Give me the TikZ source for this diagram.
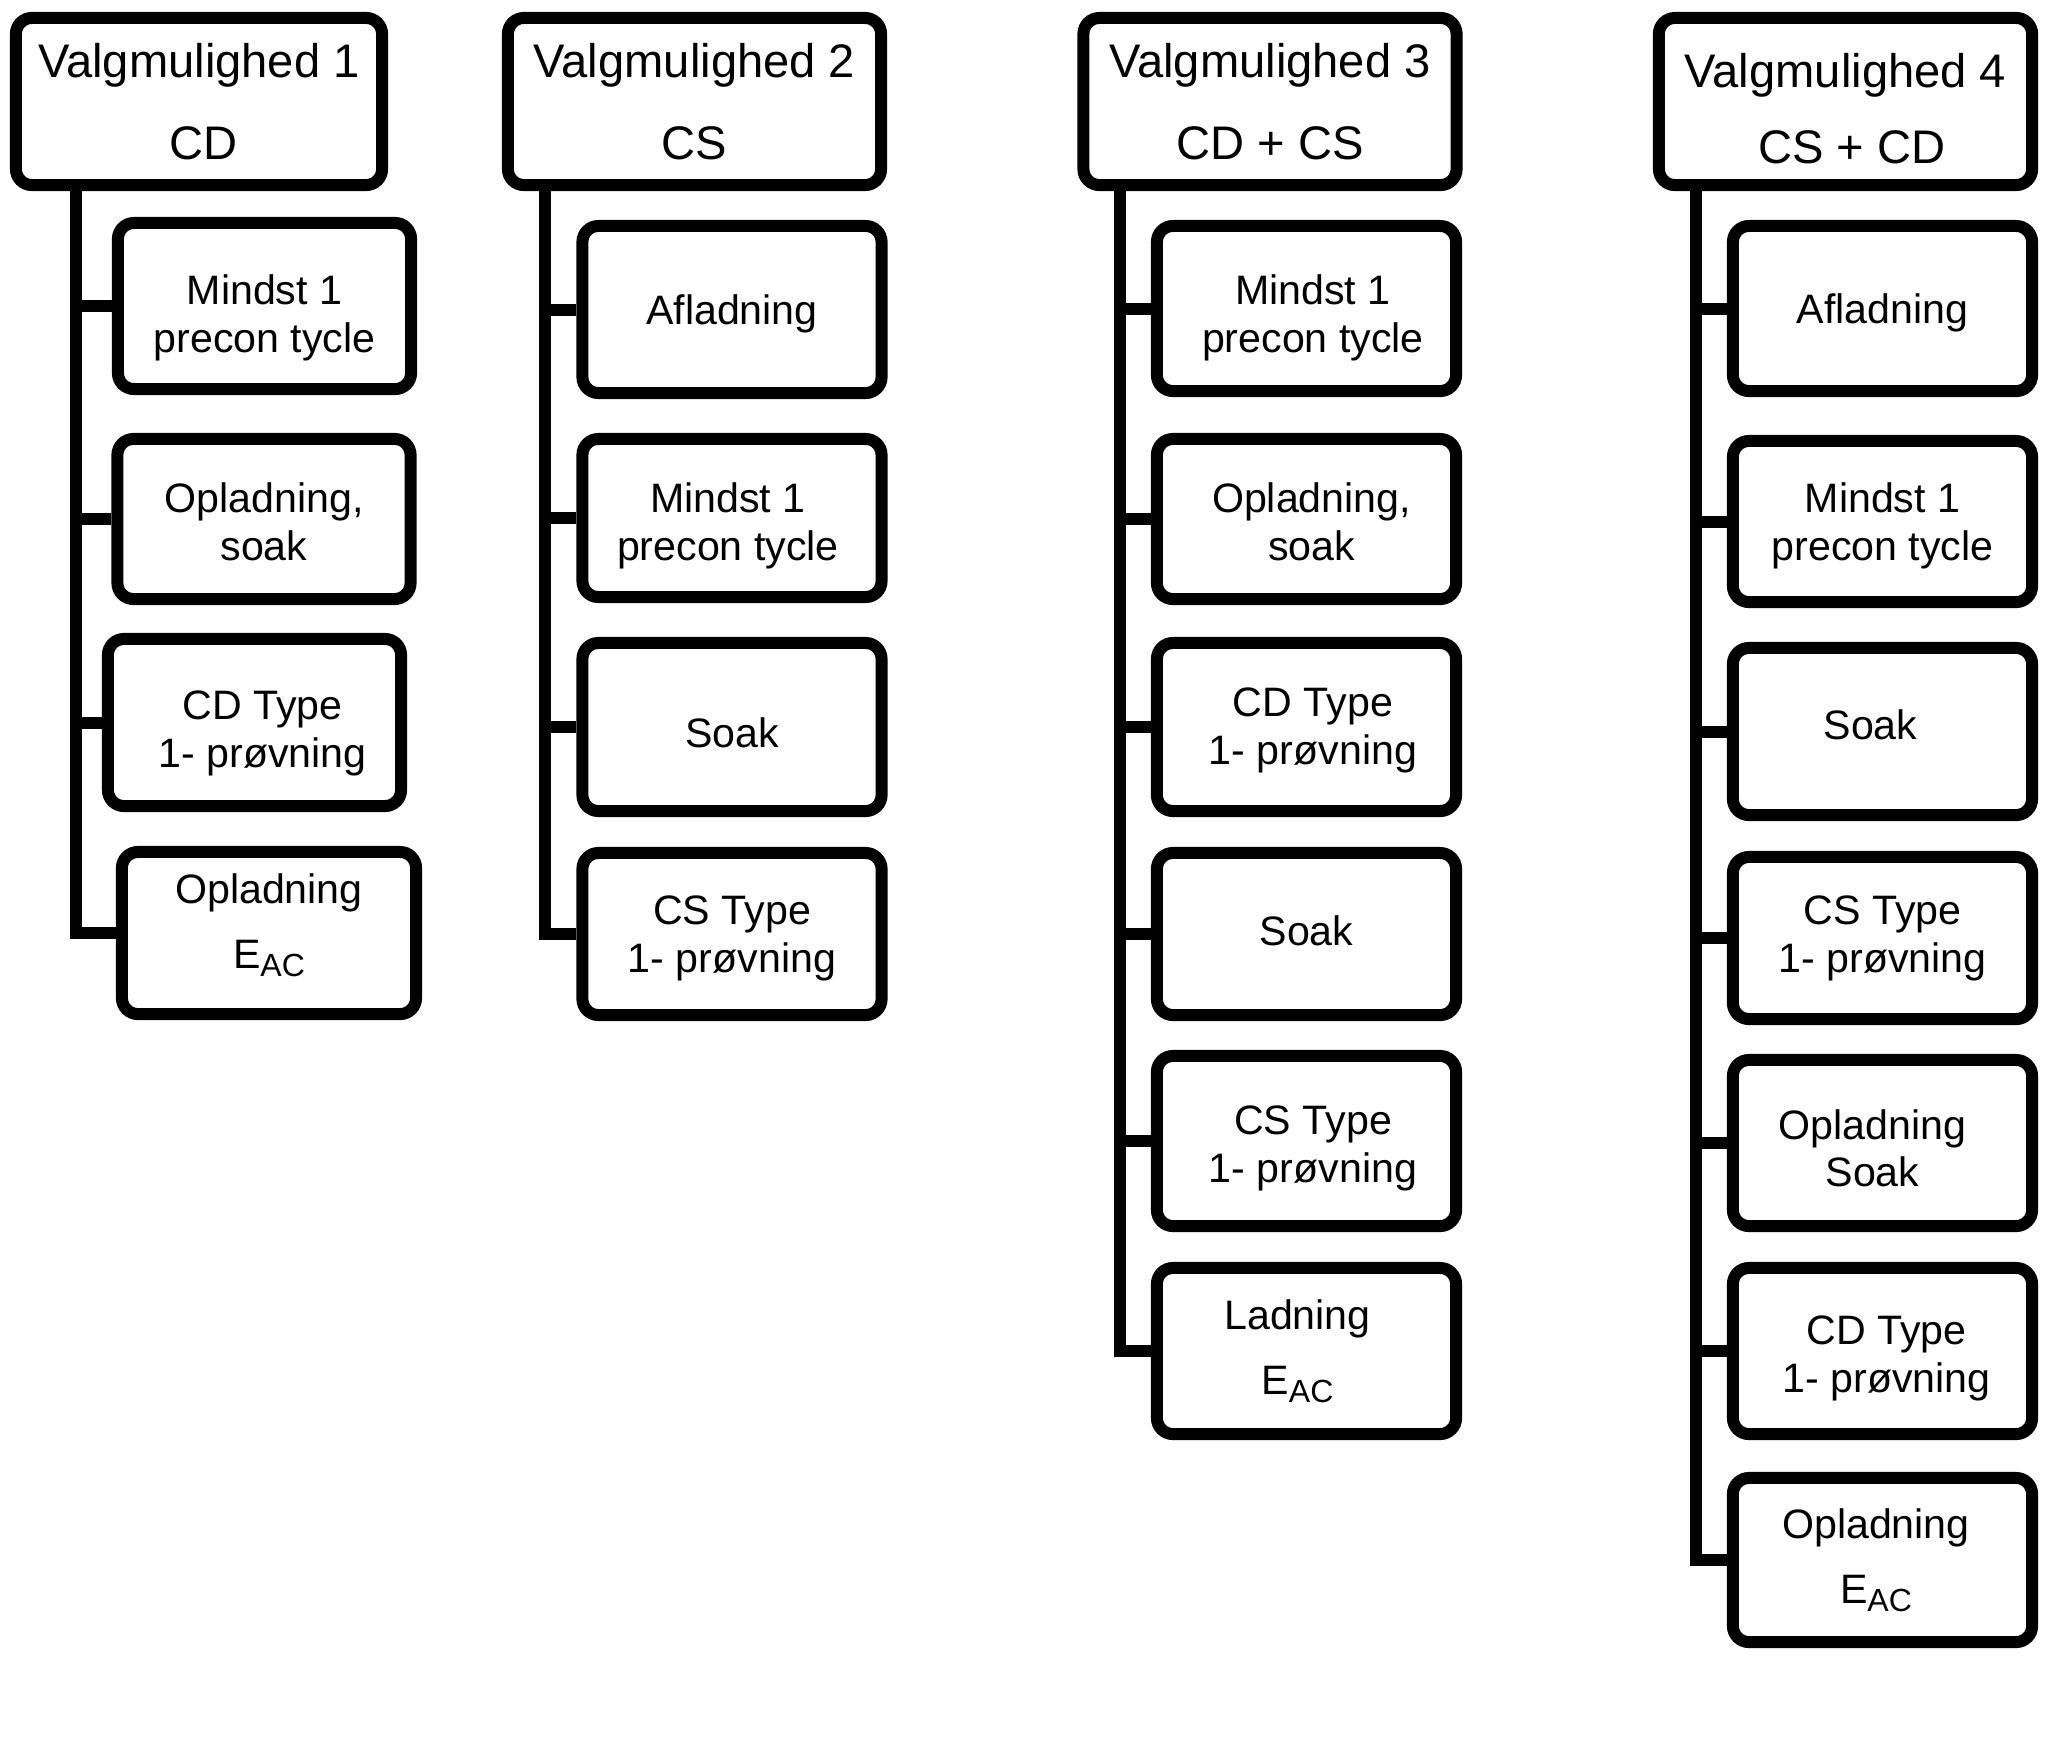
\documentclass[tikz,border=0pt]{standalone}
\usepackage{fontspec}
\setmainfont{Liberation Sans}
\newcommand\hdrfont{\fontsize{13.4}{23.3}\selectfont}
\newcommand\boxfont{\fontsize{11.7}{13.6}\selectfont}
\newcommand\eac{E\raisebox{-0.2em}{\fontsize{9.1}{9.1}\selectfont AC}}
% shift text down by #1 px (1 px = 0.1 mm): a strut on the first line
\newcommand\tdown[1]{\rule{0pt}{\dimexpr 3mm+#1mm*2/10\relax}}
% shift a line right by #1 px
\newcommand\hx[1]{\hspace*{\dimexpr #1mm*2/10\relax}}
% extra depth on the last line (mm)
\newcommand\xdepth[1]{\rule[-#1mm]{0pt}{0pt}}
\tikzset{
  hdr/.style={draw, line width=0.12cm, rounded corners=0.16cm, minimum width=3.73cm,
    minimum height=1.67cm, inner sep=0pt, align=center, font=\hdrfont},
  stepbox/.style={draw, line width=0.12cm, rounded corners=0.16cm, minimum width=2.99cm,
    minimum height=1.66cm, inner sep=0pt, align=center, font=\boxfont},
  conn/.style={line width=0.12cm},
}
\begin{document}
\begin{tikzpicture}[x=0.01cm, y=-0.01cm]
\useasboundingbox (0,0) rectangle (2047,1741);

% ---------- Column 1 ----------
\node[hdr, minimum width=3.66cm] (h1) at (199,101.5) {Valgmulighed 1\\\hx{5}CD};
\node[stepbox, minimum width=2.93cm] (c11) at (264.5,306) {\tdown{11.7}Mindst 1\\precon tycle};
\node[stepbox, minimum width=2.93cm, minimum height=1.60cm] (c12) at (264,519) {\tdown{2.6}Opladning,\\soak};
\node[stepbox, minimum width=2.93cm, minimum height=1.67cm] (c13) at (254.5,722.5) {\hx{8}\tdown{10.4}CD Type\\\hx{8}1- prøvning};
\node[stepbox, minimum width=2.94cm, minimum height=1.62cm] (c14) at (269,933) {Opladning\\[1.7mm]\eac\xdepth{2.4}};
\coordinate (t1) at (76,185);
\draw[conn] (t1) |- (c14.west);
\foreach \n in {c11,c12,c13} \draw[conn] (t1 |- \n.west) -- (\n.west);

% ---------- Column 2 ----------
\node[hdr] (h2) at (694.5,101.5) {Valgmulighed 2\\CS};
\node[stepbox, minimum height=1.67cm] (c21) at (732,309.5) {\tdown{3.9}Afladning};
\node[stepbox, minimum height=1.58cm] (c22) at (732,518) {\hx{-4}\tdown{7.8}Mindst 1\\\hx{-4}precon tycle};
\node[stepbox, minimum height=1.68cm] (c23) at (732,727) {\tdown{5.2}Soak};
\node[stepbox, minimum height=1.62cm] (c24) at (732,934) {\tdown{3.9}CS Type\\1- prøvning};
\coordinate (t2) at (545,185);
\draw[conn] (t2) |- (c24.west);
\foreach \n in {c21,c22,c23} \draw[conn] (t2 |- \n.west) -- (\n.west);

% ---------- Column 3 ----------
\node[hdr] (h3) at (1270,101.5) {Valgmulighed 3\\CD + CS};
\node[stepbox, minimum height=1.65cm] (c31) at (1306.5,308.5) {\hx{6.5}\tdown{9.1}Mindst 1\\\hx{6.5}precon tycle};
\node[stepbox, minimum height=1.60cm] (c32) at (1306.5,519) {\hx{5}\tdown{2.6}Opladning,\\\hx{5}soak};
\node[stepbox, minimum height=1.68cm] (c33) at (1306.5,727) {\hx{6.5}\tdown{2.6}CD Type\\\hx{6.5}1- prøvning};
\node[stepbox, minimum height=1.62cm] (c34) at (1306.5,934) {Soak\xdepth{0.78}};
\node[stepbox, minimum height=1.70cm] (c35) at (1306.5,1141) {\hx{6.5}\tdown{6.5}CS Type\\\hx{6.5}1- prøvning};
\node[stepbox, minimum height=1.66cm] (c36) at (1306.5,1351) {\hx{-9}Ladning\\[1.7mm]\hx{-9}\eac};
\coordinate (t3) at (1120,185);
\draw[conn] (t3) |- (c36.west);
\foreach \n in {c31,c32,c33,c34,c35} \draw[conn] (t3 |- \n.west) -- (\n.west);

% ---------- Column 4 ----------
\node[hdr] (h4) at (1845.5,101.5) {\rule{0pt}{4.8mm}Valgmulighed 4\\[-0.65mm]\hx{6.5}CS + CD};
\node[stepbox, minimum height=1.65cm] (c41) at (1882.5,308.5) {\tdown{3.9}Afladning};
\node[stepbox, minimum height=1.61cm] (c42) at (1882.5,521.5) {\tdown{3.9}Mindst 1\\precon tycle};
\node[stepbox, minimum height=1.67cm] (c43) at (1882.5,731.5) {\hx{-12}Soak\xdepth{1.3}};
\node[stepbox, minimum height=1.62cm] (c44) at (1882.5,938) {CS Type\\1- prøvning};
\node[stepbox, minimum height=1.66cm] (c45) at (1882.5,1143) {\hx{-10}\tdown{5.2}Opladning\\\hx{-10}Soak};
\node[stepbox, minimum height=1.66cm] (c46) at (1882.5,1351) {\hx{4}\tdown{6.5}CD Type\\\hx{4}1- prøvning};
\node[stepbox, minimum height=1.64cm] (c47) at (1882.5,1560) {\hx{-6.5}Opladning\\[1.7mm]\hx{-6.5}\eac};
\coordinate (t4) at (1696,185);
\draw[conn] (t4) |- (c47.west);
\foreach \n in {c41,c42,c43,c44,c45,c46} \draw[conn] (t4 |- \n.west) -- (\n.west);
\end{tikzpicture}
\end{document}
